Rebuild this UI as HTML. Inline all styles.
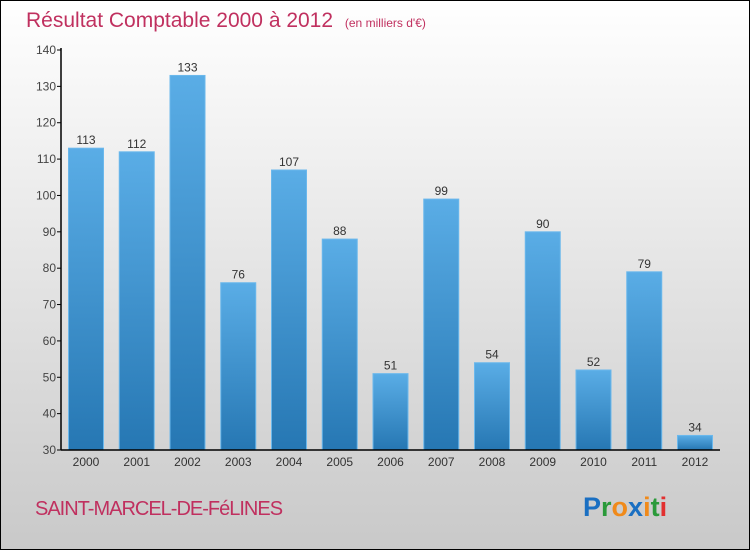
<!DOCTYPE html>
<html><head><meta charset="utf-8"><style>
html,body{margin:0;padding:0}
body{width:750px;height:550px;overflow:hidden}
svg text{font-family:"Liberation Sans",sans-serif}
</style></head><body>
<svg id="chart" width="750" height="550" xmlns="http://www.w3.org/2000/svg">
<defs>
<linearGradient id="bg" x1="0" y1="0" x2="0" y2="1"><stop offset="0" stop-color="#ffffff"/><stop offset="1" stop-color="#c9c9c9"/></linearGradient>
<linearGradient id="bar" x1="0" y1="0" x2="0" y2="1"><stop offset="0" stop-color="#5aade6"/><stop offset="1" stop-color="#2677b3"/></linearGradient>
</defs>
<rect x="0.5" y="0.5" width="749" height="549" fill="url(#bg)" stroke="#000" stroke-width="1"/>
<text x="26" y="27" font-size="21" fill="#c0305f">Résultat Comptable 2000 à 2012 <tspan font-size="12" dx="6">(en milliers d'€)</tspan></text>
<g id="plot"></g>
<text x="35" y="515" font-size="20" fill="#c0305f" letter-spacing="-1">SAINT-MARCEL-DE-FéLINES</text>
<g font-size="27" font-weight="bold" font-family="Liberation Sans, sans-serif">
<text x="583" y="516"><tspan fill="#1a6fc2">P</tspan><tspan fill="#2a9a3a">r</tspan><tspan fill="#f08a1a">o</tspan><tspan fill="#1a6fc2">x</tspan><tspan fill="#f08a1a">i</tspan><tspan fill="#2a9a3a">t</tspan><tspan fill="#e23030">i</tspan></text>
</g>
</svg>
<script>
const categories=["2000","2001","2002","2003","2004","2005","2006","2007","2008","2009","2010","2011","2012"];
const values=[113,112,133,76,107,88,51,99,54,90,52,79,34];
const yTicks=[30,40,50,60,70,80,90,100,110,120,130,140];
const NS="http://www.w3.org/2000/svg";
const g=document.getElementById('plot');
const yMin=30,yMax=140,y0=450,y1=50;
const y=v=>y0-(v-yMin)*(y0-y1)/(yMax-yMin);
const x=i=>86+i*50.75;
function el(t,a,txt){const e=document.createElementNS(NS,t);for(const k in a)e.setAttribute(k,a[k]);if(txt!=null)e.textContent=txt;g.appendChild(e);return e;}
yTicks.forEach(t=>{
 const l=el('line',{x1:57,x2:61,y1:y(t),y2:y(t),stroke:'#000'});
 
 
 const tx=el('text',{x:56,y:y(t)+4,'font-size':12,fill:'#444','text-anchor':'end'},t);
 
 
});
values.forEach((v,i)=>{
 const r=el('rect',{x:x(i)-17.5,y:y(v),width:35,height:y0-y(v),fill:'url(#bar)',stroke:'#6bb8ec','stroke-width':1});
 
 
 const lb=el('text',{x:x(i),y:y(v)-4,'font-size':12,fill:'#333','text-anchor':'middle'},v);
 
 
 const cl=el('text',{x:x(i),y:466,'font-size':12,fill:'#333','text-anchor':'middle'},categories[i]);
 
 
});
const ya=el('line',{x1:61,x2:61,y1:48,y2:450,stroke:'#000','stroke-width':1.5});


const xa=el('line',{x1:61,x2:720,y1:450,y2:450,stroke:'#000','stroke-width':1.5});


</script>
</body></html>
